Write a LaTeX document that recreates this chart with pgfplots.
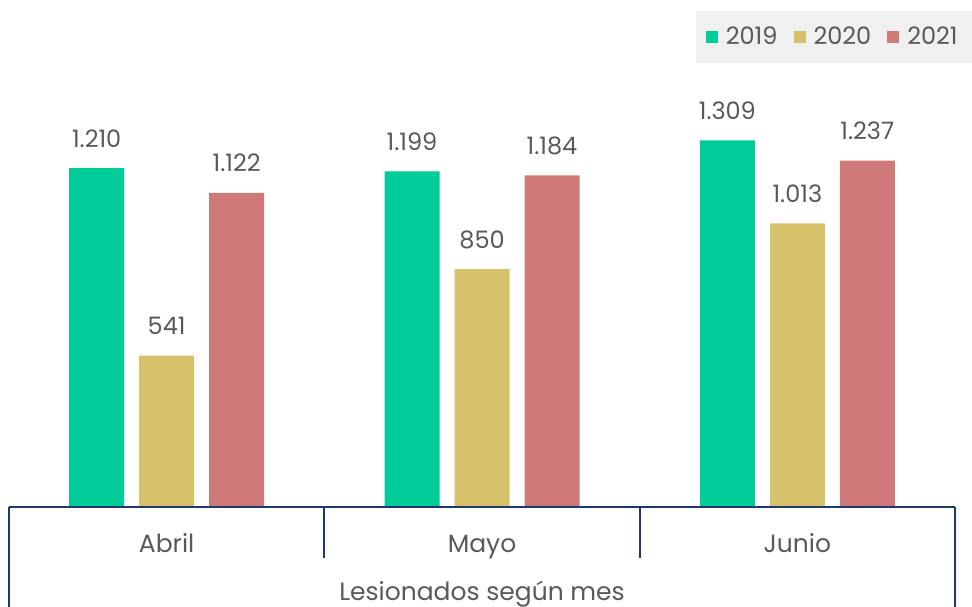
\documentclass[border=0pt]{standalone}
\usepackage{pgfplots}
\pgfplotsset{compat=1.18}
\usepackage{fontspec}
\setmainfont{Poppins}

\definecolor{c2019}{RGB}{0,204,153}
\definecolor{c2020}{RGB}{214,194,107}
\definecolor{c2021}{RGB}{207,122,120}
\definecolor{navy}{RGB}{31,56,110}
\definecolor{txt}{RGB}{89,89,89}
\definecolor{leggray}{RGB}{240,240,240}

\begin{document}
\begin{tikzpicture}
\begin{axis}[
  scale only axis,
  width=473pt, height=224pt,
  ymin=0, ymax=1600,
  xmin=-0.5, xmax=2.5,
  ybar, bar width=27.5pt,
  axis line style={draw=none},
  ytick=\empty,
  xtick={0,1,2}, xticklabels={Abril,Mayo,Junio},
  major tick length=0pt,
  xticklabel style={anchor=base, yshift=-22.5pt, font=\fontsize{12.5pt}{14pt}\selectfont, text=txt},
  xlabel={Lesionados según mes},
  xlabel style={at={(axis description cs:0.5,0)}, anchor=base, yshift=-46.5pt, font=\fontsize{12.5pt}{14pt}\selectfont, text=txt},
  nodes near coords,
  every node near coord/.append style={anchor=base, yshift=10.5pt, font=\fontsize{12pt}{14pt}\selectfont, text=txt,
    /pgf/number format/.cd, 1000 sep={.}, assume math mode=true},
  clip=false,
  legend columns=3,
  legend style={at={(axis description cs:1.018,1.109)}, anchor=north east,
    fill=leggray, draw=none, font=\fontsize{12pt}{13pt}\selectfont, text=txt,
    inner xsep=5pt, inner ysep=6pt,
    /tikz/every odd column/.append style={column sep=2pt},
    /tikz/every even column/.append style={column sep=6pt}},
  legend image code/.code={\fill[#1] (0pt,-3pt) rectangle (6pt,3pt);},
]
\addplot[fill=c2019, draw=none, bar shift=-35pt] coordinates {(0,1210)(1,1199)(2,1309)};
\addlegendentry{2019}
\addplot[fill=c2020, draw=none, bar shift=0pt] coordinates {(0,541)(1,850)(2,1013)};
\addlegendentry{2020}
\addplot[fill=c2021, draw=none, bar shift=35pt] coordinates {(0,1122)(1,1184)(2,1237)};
\addlegendentry{2021}

\draw[navy, line width=1pt] (rel axis cs:0,0) -- (rel axis cs:1,0);
\draw[navy, line width=1pt] (axis cs:0.5,0) -- ([yshift=-25.5pt]axis cs:0.5,0);
\draw[navy, line width=1pt] (axis cs:1.5,0) -- ([yshift=-25.5pt]axis cs:1.5,0);
\draw[navy, line width=1pt] (rel axis cs:0,0) -- ([yshift=-60pt]rel axis cs:0,0);
\draw[navy, line width=1pt] (rel axis cs:1,0) -- ([yshift=-60pt]rel axis cs:1,0);
\coordinate (bl) at (rel axis cs:0,0);
\coordinate (tr) at (rel axis cs:1,1);
\end{axis}
\pgfresetboundingbox
\path ([xshift=-4.5pt, yshift=-49.5pt]bl) rectangle ([xshift=8.5pt, yshift=29.5pt]tr);
\end{tikzpicture}
\end{document}
